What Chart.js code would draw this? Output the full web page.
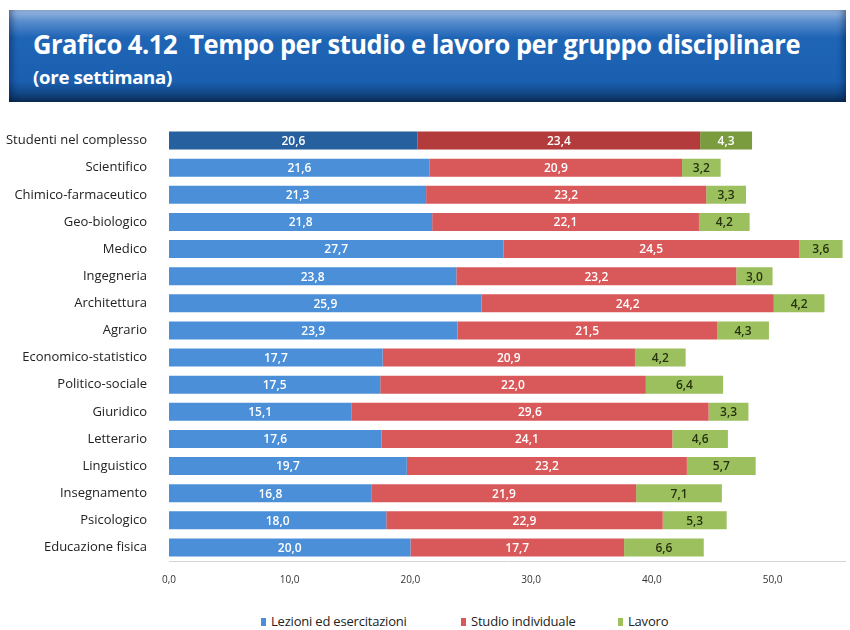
<!DOCTYPE html>
<html lang="it">
<head>
<meta charset="utf-8">
<title>Grafico 4.12</title>
<script src="https://cdn.jsdelivr.net/npm/chart.js@4.4.1/dist/chart.umd.min.js"></script>
<style>
    body { margin: 0; background: #fff; width: 850px; height: 630px; overflow: hidden; position: relative; }
    #banner {
        position: absolute; left: 9px; top: 10px; width: 837px; height: 92px;
        background: linear-gradient(to bottom, #9dbbe2 0%, #5a8ecd 12%, #1f65b6 30%, #1a5fb0 78%, #124888 90%, #0b2c55 100%);
        box-shadow: inset 6px 0 6px -3px rgba(0,20,60,0.45), inset -6px 0 6px -3px rgba(0,20,60,0.45);
        color: #fff; font-family: "Open Sans", sans-serif;
    }
    #title { position: absolute; left: 24px; top: 15px; font-size: 27px; font-weight: 700; white-space: nowrap; transform-origin: left top; letter-spacing: -0.5px; }
    #subtitle { position: absolute; left: 24px; top: 55px; font-size: 18px; font-weight: 700; white-space: nowrap; transform-origin: left top; letter-spacing: -0.3px; }
    #wrap { position: absolute; left: 0; top: 110px; width: 850px; height: 480px; }
    #legend { position: absolute; top: 612px; left: 0; width: 850px; height: 18px; font-family: "Open Sans", sans-serif; font-size: 13px; color: #222; }
    .item { position: absolute; top: 0; white-space: nowrap; letter-spacing: -0.2px; }
    .sw { display: inline-block; width: 5px; height: 8px; margin-right: 5px; vertical-align: 0px; }
</style>
</head>
<body>
<div id="banner">
    <div id="title">Grafico 4.12&nbsp; Tempo per studio e lavoro per gruppo disciplinare</div>
    <div id="subtitle">(ore settimana)</div>
</div>
<div id="wrap"><canvas id="chart"></canvas></div>
<div id="legend"></div>
<script>
// categories and values (ore settimana)
const categories = ['Studenti nel complesso', 'Scientifico', 'Chimico-farmaceutico', 'Geo-biologico', 'Medico',
    'Ingegneria', 'Architettura', 'Agrario', 'Economico-statistico', 'Politico-sociale', 'Giuridico',
    'Letterario', 'Linguistico', 'Insegnamento', 'Psicologico', 'Educazione fisica'];
const lezioni = [20.6, 21.6, 21.3, 21.8, 27.7, 23.8, 25.9, 23.9, 17.7, 17.5, 15.1, 17.6, 19.7, 16.8, 18.0, 20.0];
const studio  = [23.4, 20.9, 23.2, 22.1, 24.5, 23.2, 24.2, 21.5, 20.9, 22.0, 29.6, 24.1, 23.2, 21.9, 22.9, 17.7];
const lavoro  = [4.3, 3.2, 3.3, 4.2, 3.6, 3.0, 4.2, 4.3, 4.2, 6.4, 3.3, 4.6, 5.7, 7.1, 5.3, 6.6];
const seriesNames = ['Lezioni ed esercitazioni', 'Studio individuale', 'Lavoro'];
const xTicks = [0, 10, 20, 30, 40, 50];

const FONT = "'Open Sans', sans-serif";
const COLORS = ['#4a8fd8', '#d9585a', '#9dc05e'];
const DARK = ['#27609f', '#b43b3b', '#7a9c3f'];

// fit title widths to the reference
function fitText(el, width) {
    const w = el.getBoundingClientRect().width;
    el.style.transform = 'scaleX(' + (width / w) + ')';
}
fitText(document.getElementById('title'), 767);
fitText(document.getElementById('subtitle'), 139);

// first row (totale) uses darker shades
function shades(i) {
    return categories.map((c, j) => j === 0 ? DARK[i] : COLORS[i]);
}

const fmt = v => Number(v).toFixed(1).replace('.', ',');

const valueLabels = {
    id: 'valueLabels',
    afterDatasetsDraw(chart) {
        const ctx = chart.ctx;
        ctx.save();
        ctx.font = '600 12px ' + FONT;
        ctx.textAlign = 'center';
        ctx.textBaseline = 'middle';
        chart.data.datasets.forEach((ds, i) => {
            const meta = chart.getDatasetMeta(i);
            meta.data.forEach((bar, j) => {
                const cx = (bar.x + bar.base) / 2;
                ctx.fillStyle = (i === 2 && j !== 0) ? '#26330e' : '#ffffff';
                ctx.fillText(fmt(ds.data[j]), cx, bar.y + 1);
            });
        });
        ctx.restore();
    }
};

new Chart(document.getElementById('chart'), {
    type: 'bar',
    data: {
        labels: categories,
        datasets: [
            { label: seriesNames[0], data: lezioni, backgroundColor: shades(0) },
            { label: seriesNames[1], data: studio, backgroundColor: shades(1) },
            { label: seriesNames[2], data: lavoro, backgroundColor: shades(2) }
        ]
    },
    options: {
        indexAxis: 'y',
        responsive: true,
        maintainAspectRatio: false,
        animation: false,
        barPercentage: 0.8,
        categoryPercentage: 0.83,
        layout: { padding: { top: 17, right: 5, left: 0, bottom: 0 } },
        plugins: {
            legend: { display: false },
            tooltip: { enabled: false }
        },
        scales: {
            x: {
                stacked: true,
                min: 0,
                max: 56,
                afterBuildTicks(scale) { scale.ticks = xTicks.map(v => ({ value: v })); },
                afterFit(scale) { scale.height = 29; scale.paddingLeft = 0; scale.paddingRight = 0; },
                grid: { display: false },
                border: { display: true, color: '#d4d4d4', width: 1 },
                ticks: {
                    color: '#333', padding: 5,
                    font: { family: FONT, size: 10 },
                    callback: v => fmt(v)
                }
            },
            y: {
                stacked: true,
                afterFit(scale) { scale.width = 169; scale.paddingTop = 0; scale.paddingBottom = 0; },
                grid: { display: false },
                border: { display: false },
                ticks: {
                    color: '#222', padding: 14,
                    font: { family: FONT, size: 13 }
                }
            }
        }
    },
    plugins: [valueLabels]
});

// legend below the chart
const legendX = [261, 461, 618];
const legend = document.getElementById('legend');
seriesNames.forEach((name, i) => {
    const item = document.createElement('div');
    item.className = 'item';
    item.style.left = legendX[i] + 'px';
    item.innerHTML = '<span class="sw" style="background:' + COLORS[i] + '"></span>' + name;
    legend.appendChild(item);
});
</script>
</body>
</html>
